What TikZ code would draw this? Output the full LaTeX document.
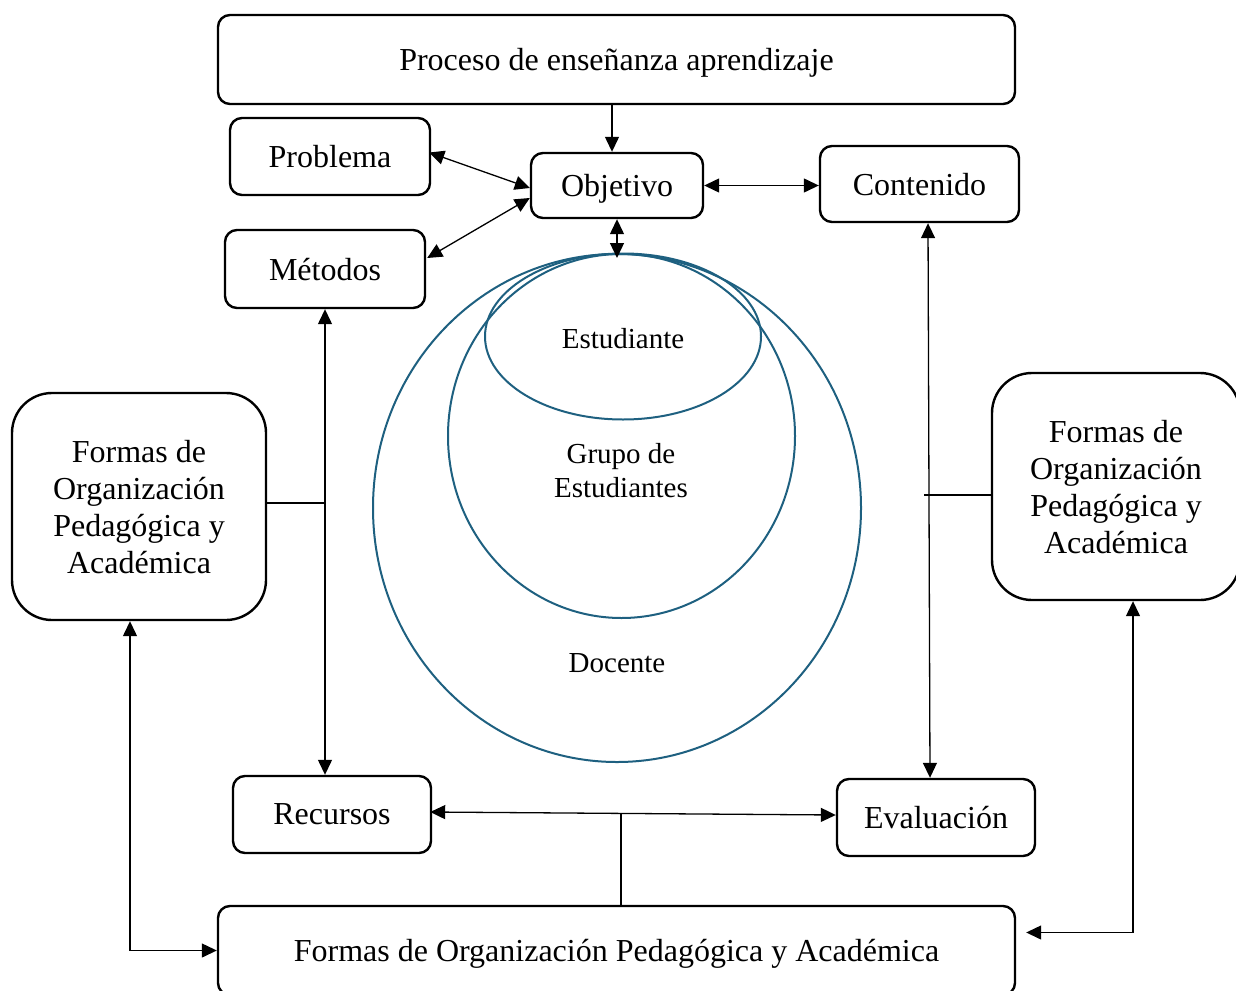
\documentclass[tikz,border=0pt]{standalone}
\usepackage{fontspec}
\setmainfont{Liberation Serif}
\usetikzlibrary{arrows.meta,calc}
\definecolor{circ}{RGB}{30,96,128}
\tikzset{
  box/.style={draw=black, line width=2.4pt, rounded corners=12pt, align=center, inner sep=0pt,
    font=\fontsize{32}{37}\selectfont, text depth=0pt},
  bigbox/.style={box, rounded corners=40pt},
  conn/.style={line width=1.3pt, -{Triangle[length=15pt,width=14pt]}},
  biconn/.style={line width=1.3pt, {Triangle[length=15pt,width=14pt]}-{Triangle[length=15pt,width=14pt]}},
  plain/.style={line width=1.3pt},
  ring/.style={draw=circ, line width=2pt},
  clabel/.style={font=\fontsize{29}{34}\selectfont, align=center}
}
\begin{document}
\begin{tikzpicture}[x=1pt,y=-1pt]
\useasboundingbox (0,0) rectangle (1236,990);
% circles
\draw[ring] (617,508) ellipse [x radius=244, y radius=254];
\draw[ring] (621.5,436) ellipse [x radius=173.5, y radius=182];
\draw[ring] (623,336.5) ellipse [x radius=138, y radius=83];
\node[clabel] (estu) at (623,339) {Estudiante};
\node[clabel] (grupo) at (621,471) {Grupo de\\Estudiantes};
\node[clabel] (doc) at (617,663) {Docente};
\coordinate (ctop) at (617,258);
% boxes
\node[box, minimum width=797, minimum height=89] (proc) at (616.5,59.5) {Proceso de enseñanza aprendizaje};
\node[box, minimum width=200, minimum height=77] (prob) at (330,156.5) {Problema};
\node[box, minimum width=200, minimum height=78] (met) at (325,269) {Métodos};
\node[box, minimum width=172, minimum height=65] (obj) at (617,185.5) {Objetivo};
\node[box, minimum width=199, minimum height=76] (cont) at (919.5,184) {Contenido};
\node[bigbox, minimum width=254, minimum height=227] (formL) at (139,506.5) {Formas de\\Organización\\Pedagógica y\\Académica};
\node[bigbox, minimum width=248, minimum height=227] (formR) at (1116,486.5) {Formas de\\Organización\\Pedagógica y\\Académica};
\node[box, minimum width=198, minimum height=77] (rec) at (332,814.5) {Recursos};
\node[box, minimum width=198, minimum height=77] (eval) at (936,817.5) {Evaluación};
\node[box, minimum width=797, minimum height=89] (formB) at (616.5,950.5) {Formas de Organización Pedagógica y Académica};
% connectors
\draw[conn] (proc.south -| obj.north) ++(-5,0) coordinate (p1) -- (p1 |- obj.north);
\draw[biconn] ($(prob.east)+(-2,-4)$) -- ($(obj.west)+(0,2.5)$);
\draw[biconn] ($(met.east)+(1,-11)$) -- ($(obj.west)+(0,12.5)$);
\draw[biconn] (obj.east) -- (cont.west |- obj.east);
\draw[biconn] (obj.south) -- (ctop);
\draw[biconn] (met.south) -- (met.south |- rec.north);
\draw[biconn] ($(cont.south)+(8.5,0)$) -- ($(eval.north)+(-6,0)$);
\draw[plain] ($(formL.east)+(0,-3.5)$) -- ($(formL.east -| met.south)+(0,-3.5)$);
\draw[plain] ($(formR.west)+(0,8.5)$) -- ($(formR.west)+(-67,8.5)$);
\draw[biconn] ($(rec.east)+(-2,-2.5)$) -- ($(eval.west)+(0,-2.5)$);
\coordinate (j) at (621,813.5);
\draw[plain] (j) -- (j |- formB.north);
\draw[biconn] ($(formL.south)+(-9,0)$) |- (formB.west);
\draw[biconn] ($(formR.south)+(17,0)$) |- ($(formB.east)+(10,-18)$);
\end{tikzpicture}
\end{document}
